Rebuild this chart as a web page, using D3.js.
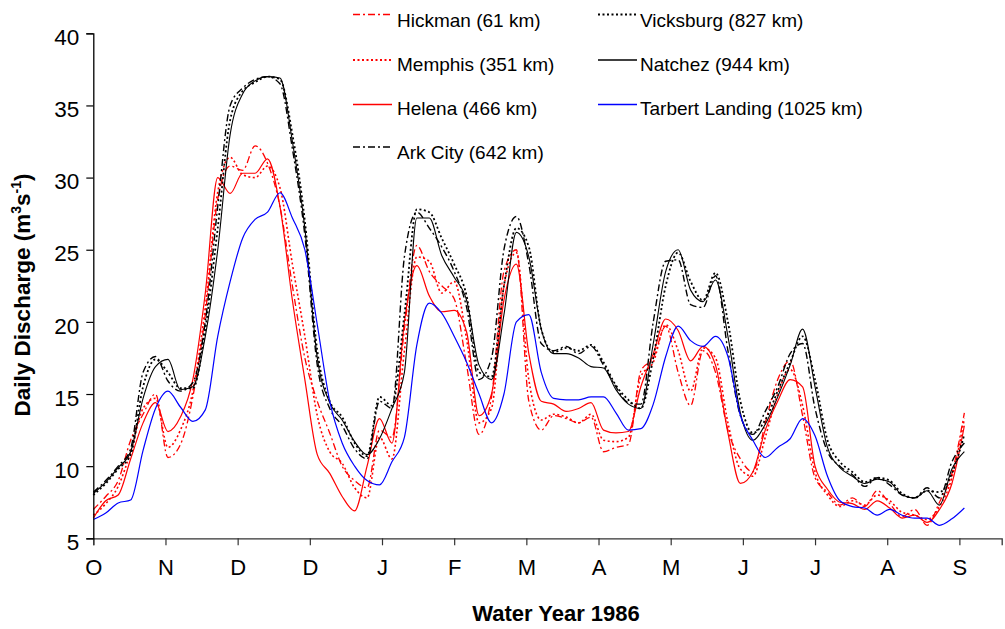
<!DOCTYPE html>
<html>
<head>
<meta charset="utf-8">
<script src="https://cdn.jsdelivr.net/npm/d3@7"></script>
<style>
  html, body { margin: 0; padding: 0; background: #fff; }
  svg { display: block; font-family: Arial, "Liberation Sans", sans-serif; }
</style>
</head>
<body>
<svg id="chart" width="1005" height="629"></svg>
<script>
// ---- data (daily discharge, sampled every 5 days of water year 1986) ----
const days = [0,5,10,15,20,25,30,35,40,45,50,55,60,65,70,75,80,85,90,95,100,105,110,115,120,125,130,135,140,145,150,155,160,165,170,175,180,185,190,195,200,205,210,215,220,225,230,235,240,245,250,255,260,265,270,275,280,285,290,295,300,305,310,315,320,325,330,335,340,345,350];

const hickman = [7.0,7.9,9.0,11.8,13.6,15.0,10.6,11.5,14.8,20.5,28.5,30.8,30.5,32.2,31.0,28.0,22.5,17.5,14.5,12.3,10.0,9.0,8.5,12.5,12.0,19.5,25.3,23.5,22.5,21.6,17.0,12.2,14.8,23.5,25.0,14.5,12.5,13.5,13.3,13.0,13.4,11.0,11.3,11.5,16.6,17.5,19.7,16.5,14.2,18.0,16.5,12.5,10.5,9.6,13.0,16.0,17.3,13.5,9.2,8.2,7.3,7.8,7.2,8.3,7.4,6.5,7.0,5.9,7.5,9.5,13.7];

const memphis = [6.6,7.4,8.6,11.0,14.0,14.7,11.3,12.5,15.2,21.0,29.0,31.4,30.2,30.0,30.8,29.3,24.0,19.0,13.5,11.0,10.2,8.5,7.8,12.0,10.5,18.0,24.5,24.2,22.0,22.8,18.8,13.0,14.0,22.5,24.8,16.0,13.2,13.6,13.4,13.0,13.6,11.8,11.7,12.0,16.2,17.2,19.8,18.0,15.2,18.2,17.5,13.0,9.8,9.3,12.0,15.0,16.7,14.2,9.6,8.0,7.2,7.6,7.3,8.0,7.6,6.8,6.6,6.3,7.2,9.2,13.3];

const helena = [6.4,7.6,8.0,10.5,13.0,14.4,12.4,13.4,16.0,22.0,30.0,28.9,30.3,30.3,31.3,28.0,21.5,16.0,10.8,9.5,7.9,6.9,10.0,13.3,11.6,20.0,23.9,21.8,20.7,20.8,19.3,13.5,15.0,21.5,24.0,17.8,14.5,14.3,13.8,14.0,14.4,12.5,12.3,12.4,15.5,17.8,20.2,19.4,17.3,18.3,17.0,12.3,8.8,9.6,12.5,14.5,16.0,15.5,10.0,8.4,7.5,7.4,7.0,7.6,7.1,6.4,6.6,6.1,7.0,8.8,12.8];

const arkCity = [8.2,9.0,10.0,11.2,16.5,17.6,15.9,15.2,15.8,20.0,28.0,35.0,36.2,36.8,37.0,36.5,32.0,26.0,17.0,14.0,12.8,11.2,10.5,14.5,14.0,24.5,27.6,26.5,25.2,23.5,21.0,16.0,17.5,25.0,27.3,24.0,18.5,18.0,18.3,17.8,18.3,17.0,15.5,14.4,14.3,20.0,24.2,24.3,21.2,21.0,23.2,18.0,13.5,12.2,13.8,15.5,17.8,18.5,14.0,11.0,10.0,9.4,8.6,9.2,8.7,8.0,7.8,8.5,7.8,10.3,11.6];

const vicksburg = [8.0,8.8,9.8,10.8,15.5,17.4,16.5,15.4,15.4,19.5,26.5,34.0,36.0,36.6,37.0,36.8,33.0,27.0,18.0,14.5,13.4,11.6,10.7,14.8,14.2,20.5,27.8,27.6,25.8,24.0,21.8,16.5,16.2,22.5,26.5,25.2,19.5,17.9,18.2,18.0,18.4,17.2,15.6,14.6,14.0,17.5,22.5,24.8,22.8,21.5,23.4,20.0,14.5,12.3,13.2,15.2,17.2,19.0,16.0,11.8,10.3,9.6,8.9,9.2,9.0,8.1,7.8,8.3,8.2,9.5,12.2];

const natchez = [8.1,8.9,9.9,11.0,14.7,16.9,17.4,15.3,15.5,19.0,25.0,33.0,35.8,36.7,37.0,36.9,32.5,26.5,17.5,14.4,13.2,11.7,10.8,11.9,14.0,16.5,27.2,27.2,24.6,23.1,21.5,17.0,16.0,20.5,26.2,24.5,19.5,17.8,17.8,17.5,16.9,16.8,15.3,14.3,14.0,18.5,23.5,25.0,22.2,21.4,22.9,19.0,13.7,11.8,12.9,14.8,17.0,19.5,15.5,11.3,9.9,9.3,8.8,9.1,8.9,8.0,7.8,8.3,7.3,9.8,11.0];

const tarbert = [6.3,6.75,7.45,7.65,11.1,14.0,15.2,14.1,13.1,13.9,19.0,22.8,25.8,27.1,27.6,28.95,27.2,25.0,19.8,14.5,11.6,10.0,9.0,8.7,10.3,12.0,18.4,21.3,20.6,19.0,17.2,15.0,13.0,15.0,20.0,20.5,16.5,14.7,14.6,14.6,14.8,14.8,13.7,12.5,12.6,14.3,17.6,19.7,18.7,18.3,19.0,17.6,13.5,11.8,10.6,11.3,11.9,13.3,12.1,9.3,7.6,7.2,7.1,6.6,7.0,6.6,6.4,6.4,5.9,6.35,7.1];

const seriesNames = ["Hickman (61 km)","Memphis (351 km)","Helena (466 km)","Ark City (642 km)","Vicksburg (827 km)","Natchez (944 km)","Tarbert Landing (1025 km)"];
const seriesValues = [hickman, memphis, helena, arkCity, vicksburg, natchez, tarbert];

const monthTickDays = [0,29,58,87,116,145,174,203,232,261,290,319,348];
const monthTickLabels = ["O","N","D","D","J","F","M","A","M","J","J","A","S"];
const yTickValues = [5,10,15,20,25,30,35,40];

// ---- styles ----
const styles = [
  {color:"#ff0000", dash:"7,3,2,3", width:1.3},
  {color:"#ff0000", dash:"2,2.5", width:1.6},
  {color:"#ff0000", dash:null, width:1.2},
  {color:"#000000", dash:"7,3,2,3", width:1.4},
  {color:"#000000", dash:"2,2.5", width:1.8},
  {color:"#000000", dash:null, width:1.1},
  {color:"#0000ff", dash:null, width:1.2}
];

const svg = d3.select("#chart");
const x = d3.scaleLinear().domain([0, 365]).range([93.3, 1001.7]);
const y = d3.scaleLinear().domain([5, 40]).range([538.3, 33.3]);

// lines
const line = d3.line()
  .x((d, i) => x(days[i]))
  .y(d => y(d))
  .curve(d3.curveMonotoneX);

const g = svg.append("g");
seriesValues.forEach((vals, k) => {
  const st = styles[k];
  g.append("path")
    .datum(vals)
    .attr("d", line)
    .attr("fill", "none")
    .attr("stroke", st.color)
    .attr("stroke-width", st.width)
    .attr("stroke-dasharray", st.dash)
    .attr("stroke-linejoin", "round");
});

// axes
const xAxis = d3.axisBottom(x)
  .tickValues(monthTickDays)
  .tickFormat((d, i) => monthTickLabels[i])
  .tickSizeOuter(0)
  .tickSize(7)
  .tickPadding(14);
const xg = svg.append("g").attr("transform", `translate(0,${y(5)})`).call(xAxis);
xg.select(".domain").attr("stroke", "#333").attr("stroke-width", 1.3);
xg.selectAll(".tick line").attr("stroke", "#333").attr("stroke-width", 1.2);
xg.selectAll("text").attr("font-size", 22).attr("fill", "#000")
  .attr("font-family", "Arial, 'Liberation Sans', sans-serif");

const yAxis = d3.axisLeft(y)
  .tickValues(yTickValues)
  .tickSizeOuter(0)
  .tickSize(7)
  .tickPadding(7);
const yg = svg.append("g").attr("transform", `translate(${x(0)},0)`).call(yAxis);
yg.select(".domain").attr("stroke", "#000").attr("stroke-width", 1.3);
yg.selectAll(".tick line").attr("stroke", "#000").attr("stroke-width", 1.2);
yg.selectAll("text").attr("font-size", 22.5).attr("fill", "#000").attr("dy", "0.5em")
  .attr("font-family", "Arial, 'Liberation Sans', sans-serif");

// axis titles
svg.append("text")
  .attr("x", 556).attr("y", 621)
  .attr("text-anchor", "middle")
  .attr("font-size", 22).attr("font-weight", "bold")
  .text("Water Year 1986");

const yt = svg.append("text")
  .attr("transform", "translate(30,295) rotate(-90)")
  .attr("text-anchor", "middle")
  .attr("font-size", 22.5).attr("font-weight", "bold");
yt.append("tspan").text("Daily Discharge (m");
yt.append("tspan").attr("font-size", 14).attr("dy", -9).text("3");
yt.append("tspan").attr("dy", 9).text("s");
yt.append("tspan").attr("font-size", 14).attr("dy", -9).text("-1");
yt.append("tspan").attr("dy", 9).text(")");

// legend
const legendPos = [
  {lx:353, ly:14.5, tx:397, ty:27},
  {lx:353, ly:60, tx:397, ty:70.5},
  {lx:353, ly:104.5, tx:397, ty:115},
  {lx:353, ly:147, tx:397, ty:158.5},
  {lx:598, ly:14.5, tx:640, ty:27},
  {lx:598, ly:60, tx:640, ty:70.5},
  {lx:598, ly:104.5, tx:640, ty:115}
];
seriesNames.forEach((name, k) => {
  const p = legendPos[k], st = styles[k];
  svg.append("line")
    .attr("x1", p.lx).attr("x2", p.lx + 39)
    .attr("y1", p.ly).attr("y2", p.ly)
    .attr("stroke", st.color)
    .attr("stroke-width", st.width + 0.3)
    .attr("stroke-dasharray", st.dash);
  svg.append("text")
    .attr("x", p.tx).attr("y", p.ty)
    .attr("font-size", 19)
    .attr("fill", "#000")
    .text(name);
});
</script>
</body>
</html>
